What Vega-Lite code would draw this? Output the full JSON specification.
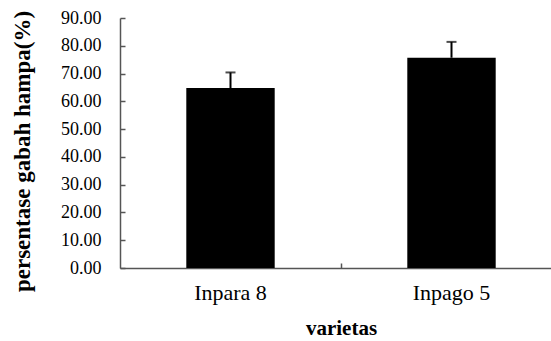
{
  "$schema": "https://vega.github.io/schema/vega-lite/v6.json",
  "width": 442,
  "height": 250,
  "padding": {"left": 11, "top": 9, "right": 0, "bottom": 0},
  "background": "white",
  "data": {
    "values": [
      {"varietas": "Inpara 8", "persentase": 64.8, "atas": 70.4},
      {"varietas": "Inpago 5", "persentase": 75.7, "atas": 81.4}
    ]
  },
  "config": {
    "view": {"stroke": null},
    "font": "Liberation Serif",
    "axis": {
      "grid": false,
      "domainColor": "#555555",
      "domainWidth": 1.5,
      "tickColor": "#555555",
      "tickWidth": 1.5,
      "labelColor": "black",
      "titleColor": "black",
      "labelFont": "Liberation Serif",
      "titleFont": "Liberation Serif",
      "titleFontWeight": "bold",
      "labelOverlap": false
    }
  },
  "encoding": {
    "x": {
      "field": "varietas",
      "type": "nominal",
      "sort": null,
      "scale": {"paddingInner": 0.6, "paddingOuter": 0.3},
      "axis": {
        "title": "varietas",
        "labelAngle": 0,
        "labelFontSize": 22,
        "titleFontSize": 21,
        "bandPosition": 1.75,
        "ticks": true,
        "tickSize": 5,
        "labelPadding": 9,
        "titlePadding": 14,
        "encoding": {"ticks": {"y2": {"value": -5}}}
      }
    },
    "y": {
      "field": "persentase",
      "type": "quantitative",
      "scale": {"domain": [0, 90]},
      "axis": {
        "title": "persentase gabah hampa(%)",
        "values": [0, 10, 20, 30, 40, 50, 60, 70, 80, 90],
        "format": ".2f",
        "labelFont": "Liberation Serif",
        "labelOverlap": false,
        "labelFontSize": 18,
        "titleFontSize": 23,
        "titleY": 133,
        "ticks": true,
        "tickSize": 5,
        "labelPadding": 14,
        "titlePadding": 26,
        "encoding": {"ticks": {"x2": {"value": 5}}}
      }
    }
  },
  "layer": [
    {
      "mark": {"type": "bar", "color": "black"}
    },
    {
      "mark": {"type": "rule", "color": "black", "strokeWidth": 2},
      "encoding": {
        "y2": {"field": "atas"}
      }
    },
    {
      "mark": {"type": "tick", "color": "black", "thickness": 2, "size": 10},
      "encoding": {
        "y": {
          "field": "atas",
          "type": "quantitative",
          "scale": {"domain": [0, 90]},
          "axis": {
            "title": "persentase gabah hampa(%)",
            "values": [0, 10, 20, 30, 40, 50, 60, 70, 80, 90],
            "format": ".2f",
            "labelFont": "Liberation Serif",
            "labelOverlap": false,
            "labelFontSize": 18,
            "titleFontSize": 23,
            "titleY": 133,
            "ticks": true,
            "tickSize": 5,
            "labelPadding": 14,
            "titlePadding": 26,
            "encoding": {"ticks": {"x2": {"value": 5}}}
          }
        }
      }
    }
  ]
}
